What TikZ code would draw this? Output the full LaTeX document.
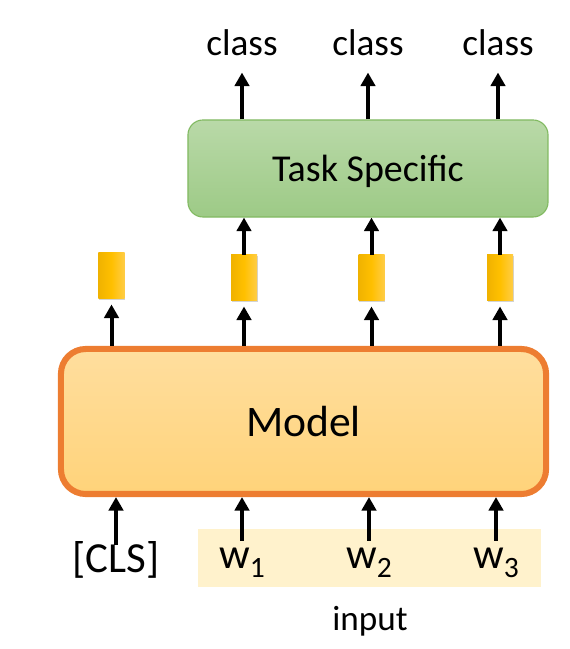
\documentclass[tikz,border=0pt]{standalone}
\usepackage{fontspec}
\setmainfont{Carlito}
\usepackage{tikz}
\usetikzlibrary{arrows.meta, positioning, calc, shadows}
\definecolor{modelline}{RGB}{237,125,49}
\definecolor{modeltop}{RGB}{255,222,158}
\definecolor{modelbot}{RGB}{255,211,122}
\definecolor{taskline}{RGB}{130,186,98}
\definecolor{tasktop}{RGB}{185,217,168}
\definecolor{taskbot}{RGB}{157,202,134}
\definecolor{vecleft}{RGB}{240,178,0}
\definecolor{vecmid}{RGB}{255,192,0}
\definecolor{vecright}{RGB}{255,205,70}
\definecolor{bandfill}{RGB}{255,242,204}
\newcommand{\wsub}[1]{w\raisebox{-6.4pt}{\fontsize{21}{24}\selectfont #1}}
\tikzset{
    modelbox/.style={rectangle, rounded corners=0.62cm, draw=modelline, line width=4.3pt, top color=modeltop, bottom color=modelbot, minimum width=12.125cm, minimum height=3.625cm, font=\fontsize{31}{36}\selectfont},
    taskbox/.style={rectangle, rounded corners=0.375cm, draw=taskline, line width=0.8pt, top color=tasktop, bottom color=taskbot, minimum width=9cm, minimum height=2.425cm, text depth=0pt, font=\fontsize{27}{32}\selectfont},
    vector/.style={rectangle, left color=vecleft, right color=vecright, middle color=vecmid, minimum width=0.65cm, minimum height=1.15cm, inner sep=0pt, drop shadow={shadow xshift=0.6pt, shadow yshift=-0.6pt, opacity=0.35}},
    band/.style={rectangle, fill=bandfill, minimum width=8.575cm, minimum height=1.45cm, inner sep=0pt},
    token/.style={anchor=base, inner sep=0pt, text height=0.7cm, font=\fontsize{30.5}{34}\selectfont},
    classlabel/.style={anchor=base, inner sep=0pt, font=\fontsize{26.5}{30}\selectfont},
    arrow/.style={line width=0.1cm, -{Triangle[width=0.36cm, length=0.34cm]}}
}

\begin{document}
\begin{tikzpicture}[x=0.025cm, y=0.025cm]

    \useasboundingbox (0,0) rectangle (570,649);

    % Model and task head
    \node (model) [modelbox] at (303.5,227.5) {Model};
    \node (task) [taskbox] at (368,480.5) {Task Specific};

    % output vectors
    \node (v0) [vector] at (111.5,373) {};
    \node (v1) [vector] at (244,371) {};
    \node (v2) [vector] at (371.5,371) {};
    \node (v3) [vector] at (500,371) {};

    % class labels
    \node (c1) [classlabel] at (242,593) {class};
    \node (c2) [classlabel] at (368,593) {class};
    \node (c3) [classlabel] at (498,593) {class};

    % input tokens
    \node (band) [band] at (369.5,91) {};
    \node (cls) [token] at (116,76) {[CLS]};
    \node (w1) [token] at (242,80) {\wsub{1}};
    \node (w2) [token] at (369,80) {\wsub{2}};
    \node (w3) [token] at (496,80) {\wsub{3}};
    \node (input) [classlabel, font=\fontsize{25}{28}\selectfont] at (370,19) {input};

    % Arrows
    \foreach \v in {v0,v1,v2,v3}
        \draw [arrow, shorten >=0.13cm] (model.north -| \v) -- (\v.south);
    \foreach \v in {v1,v2,v3}
        \draw [arrow] (\v.north) -- (\v |- task.south);
    \foreach \c in {c1,c2,c3}
        \draw [arrow, shorten >=0.4cm] (task.north -| \c) -- (\c.south);
    \foreach \t in {cls,w1,w2,w3}
        \draw [arrow] (\t.north) -- (\t |- model.south);

\end{tikzpicture}
\end{document}
